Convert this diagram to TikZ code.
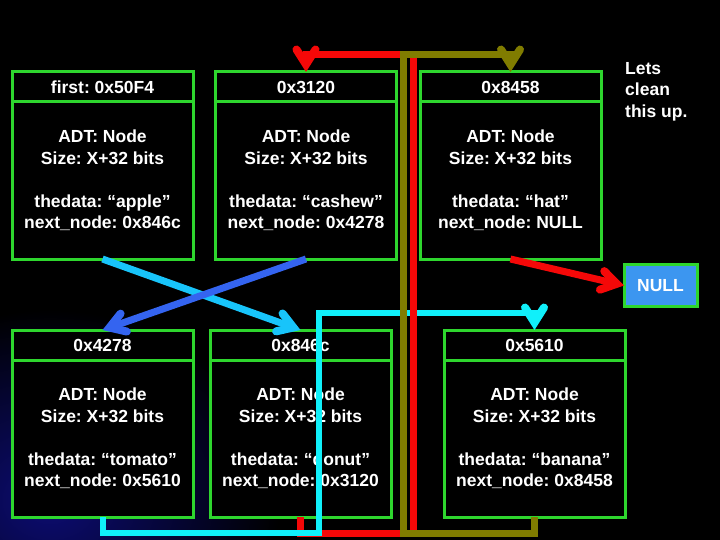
\documentclass[tikz,border=0pt]{standalone}
\usepackage{fontspec}
\setmainfont{Liberation Sans}
\usetikzlibrary{arrows.meta}
\definecolor{boxgreen}{RGB}{46,214,46}
\definecolor{lineRed}{RGB}{245,8,8}
\definecolor{lineOlive}{RGB}{128,124,0}
\definecolor{lineCyan}{RGB}{16,240,250}
\definecolor{lineSky}{RGB}{24,196,250}
\definecolor{lineRoyal}{RGB}{52,100,240}
\definecolor{nullBlue}{RGB}{60,150,240}
\definecolor{navyglow}{RGB}{12,12,115}
\newcommand{\lowdep}{\rule[-2pt]{0pt}{2pt}}
\begin{document}
\frenchspacing
\begin{tikzpicture}[x=1pt,y=-1pt,
 every node/.style={font=\fontsize{17.5}{21.5}\selectfont\bfseries\frenchspacing, text=white},
 hdr/.style={draw=boxgreen, line width=3pt, fill=black, minimum width=181pt, minimum height=30pt, inner sep=0pt, outer sep=0pt, anchor=north},
 body/.style={draw=boxgreen, line width=3pt, fill=black, minimum width=181pt, minimum height=157pt, inner sep=0pt, outer sep=0pt, anchor=north, align=center},
 conn/.style={line width=7pt},
 arr/.style={-{Straight Barb[length=15pt,width=19pt,line width=8pt,line cap=round,line join=miter]}},
]
\useasboundingbox (0,0) rectangle (720,540);
\fill[black] (0,0) rectangle (720,540);
\begin{scope}
\clip (0,0) rectangle (720,540);
\shade[inner color=navyglow, outer color=black] (50,500) ellipse (230 and 190);
\end{scope}

% top row
\node[hdr] (hdrA) at (102.5,72) {first: 0x50F4};
\node[body] (bodyA) at (hdrA.south) {ADT: Node\\Size: X+32 bits\\[21.5pt]thedata: “apple”\\next\_node: 0x846c\lowdep};
\node[hdr] (hdrB) at (306,72) {0x3120};
\node[body] (bodyB) at (hdrB.south) {ADT: Node\\Size: X+32 bits\\[21.5pt]thedata: “cashew”\\next\_node: 0x4278\lowdep};
\node[hdr] (hdrC) at (510.5,72) {0x8458};
\node[body] (bodyC) at (hdrC.south) {ADT: Node\\Size: X+32 bits\\[21.5pt]thedata: “hat”\\next\_node: NULL\lowdep};

% bottom row
\node[hdr] (hdrD) at (102.5,330) {0x4278};
\node[body] (bodyD) at (hdrD.south) {ADT: Node\\Size: X+32 bits\\[21.5pt]thedata: “tomato”\\next\_node: 0x5610\lowdep};
\node[hdr] (hdrE) at (300.5,330) {0x846c};
\node[body] (bodyE) at (hdrE.south) {ADT: Node\\Size: X+32 bits\\[21.5pt]thedata: “donut”\\next\_node: 0x3120\lowdep};
\node[hdr] (hdrF) at (534.5,330) {0x5610};
\node[body] (bodyF) at (hdrF.south) {ADT: Node\\Size: X+32 bits\\[21.5pt]thedata: “banana”\\next\_node: 0x8458\lowdep};

\node[draw=boxgreen, line width=3pt, fill=nullBlue, minimum width=73pt, minimum height=42pt, inner sep=0pt, outer sep=0pt] (nullbox) at (660.5,285.5) {NULL};
\node[anchor=north west, align=left, inner sep=0pt] (note) at (625,62) {Lets\\clean\\this up.};

% connectors
\draw[conn, lineRed, arr] (bodyE.south) |- (413,533) -- (413,55) -| (hdrB.north);
\draw[conn, lineSky, arr] (bodyA.south) -- (hdrE.north);
\draw[conn, lineRoyal, arr] (bodyB.south) -- (hdrD.north);
\draw[line width=6pt, lineCyan, arr] (bodyD.south) |- (319,533) -- (319,313) -| (hdrF.north);
\draw[conn, lineRed] (413,60) -- (413,528);
\draw[conn, lineOlive, arr] (bodyF.south) |- (403,533) -- (403,55) -| (hdrC.north);
\draw[conn, lineRed, arr] (bodyC.south) -- (nullbox.west);
\end{tikzpicture}
\end{document}
